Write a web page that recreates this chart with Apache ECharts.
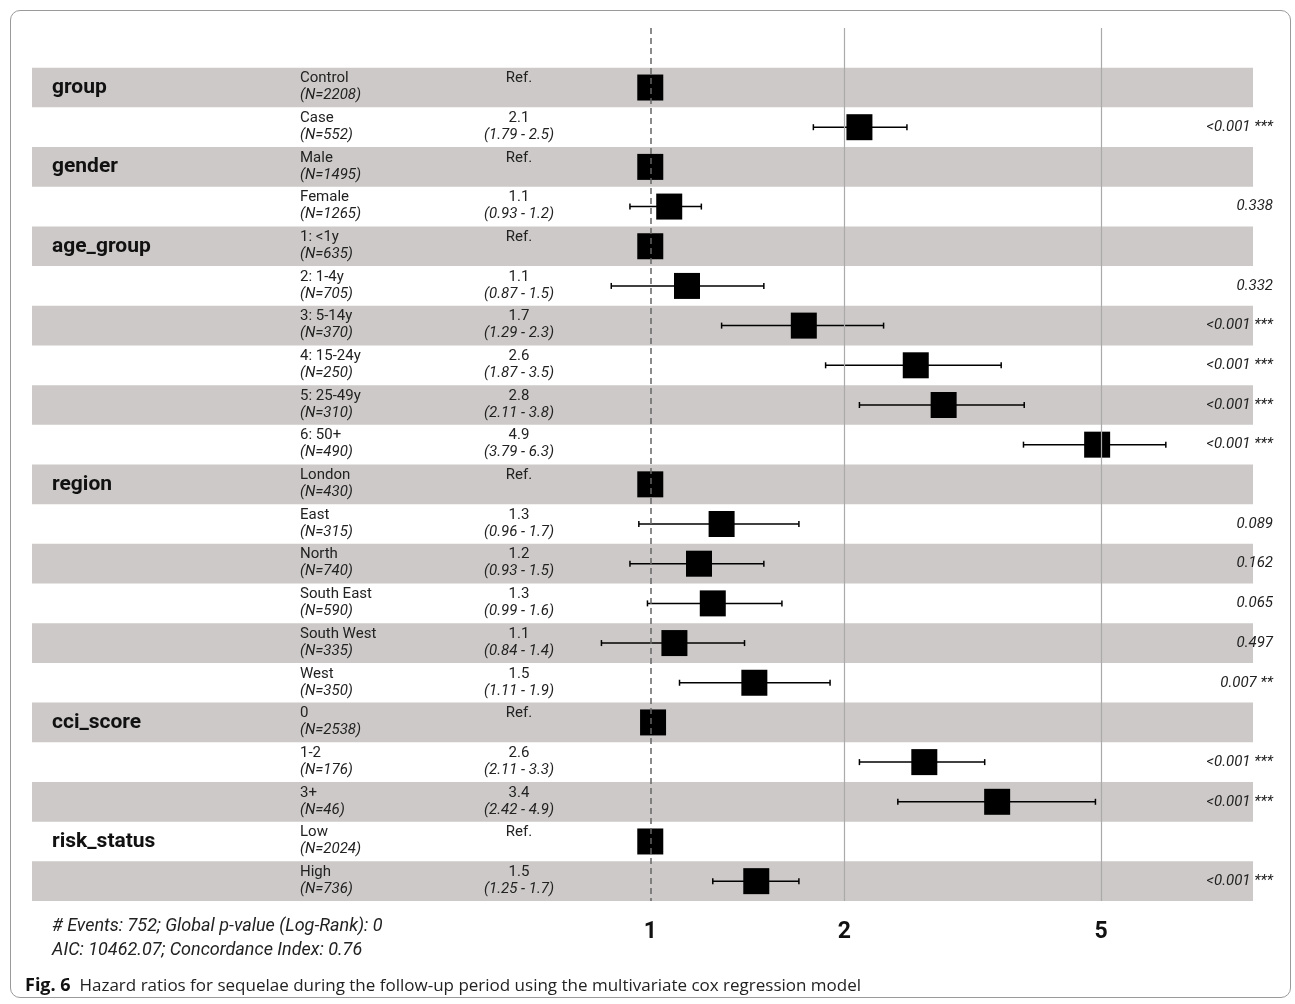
<!DOCTYPE html>
<html>
<head>
<meta charset="utf-8">
<script src="https://cdn.jsdelivr.net/npm/echarts@6/dist/echarts.min.js"></script>
<style>
  html, body { margin: 0; padding: 0; background: #fff; }
  #frame { position: absolute; left: 10px; top: 10px; width: 1281px; height: 988px;
           border: 1px solid #9a9a9a; border-radius: 10px; box-sizing: border-box; }
  #echarts { position: absolute; left: 0; top: 0; width: 1295px; height: 1004px; }
</style>
</head>
<body>
<div id="frame"></div>
<div id="echarts"></div>
<script>
// forest plot, hazard ratios per level
var vars   = ['group', '', 'gender', '', 'age_group', '', '', '', '', '', 'region', '', '', '', '', '', 'cci_score', '', '', 'risk_status', ''];
var levels = ['Control', 'Case', 'Male', 'Female', '1: <1y', '2: 1-4y', '3: 5-14y', '4: 15-24y', '5: 25-49y', '6: 50+',
              'London', 'East', 'North', 'South East', 'South West', 'West', '0', '1-2', '3+', 'Low', 'High'];
var ns     = [2208, 552, 1495, 1265, 635, 705, 370, 250, 310, 490, 430, 315, 740, 590, 335, 350, 2538, 176, 46, 2024, 736];
// estimates as plotted (unrounded) and as printed
var est    = [1, 2.11, 1, 1.07, 1, 1.14, 1.73, 2.58, 2.85, 4.93, 1, 1.29, 1.19, 1.25, 1.09, 1.45, 1.01, 2.66, 3.45, 1, 1.46];
var estTxt = ['Ref.', '2.1', 'Ref.', '1.1', 'Ref.', '1.1', '1.7', '2.6', '2.8', '4.9', 'Ref.', '1.3', '1.2', '1.3', '1.1', '1.5', 'Ref.', '2.6', '3.4', 'Ref.', '1.5'];
var lo     = [null, 1.79, null, 0.93, null, 0.87, 1.29, 1.87, 2.11, 3.79, null, 0.96, 0.93, 0.99, 0.84, 1.11, null, 2.11, 2.42, null, 1.25];
var hi     = [null, 2.5, null, 1.2, null, 1.5, 2.3, 3.5, 3.8, 6.3, null, 1.7, 1.5, 1.6, 1.4, 1.9, null, 3.3, 4.9, null, 1.7];
var pvals  = ['', '<0.001 ***', '', '0.338', '', '0.332', '<0.001 ***', '<0.001 ***', '<0.001 ***', '<0.001 ***',
              '', '0.089', '0.162', '0.065', '0.497', '0.007 **', '', '<0.001 ***', '<0.001 ***', '', '<0.001 ***'];
var xTicks = [1, 2, 5];

var chart = echarts.init(document.getElementById('echarts'));
var FONT = 'Roboto, "Noto Sans", sans-serif';

var cats = [''];
var rows = [];
for (let i = 0; i < levels.length; i++) {
    cats.push(String(i));
    rows.push([i + 1, est[i], lo[i], hi[i], i]);
}

function renderRow(params, api) {
    var i = api.value(4);
    var cs = params.coordSys;
    var c = api.coord([api.value(1), api.value(0)]);
    var h = api.size([0, 1])[1];
    var y = c[1];
    var kids = [];
    if (i % 2 === 0) {
        kids.push({ type: 'rect', shape: { x: cs.x, y: y - h / 2, width: cs.width, height: h },
                    style: { fill: '#cdc9c8' }, z2: 0 });
    }
    if (vars[i]) {
        kids.push({ type: 'text', z2: 5, style: { x: cs.x + 20, y: y, text: vars[i], fill: '#111',
            font: 'bold 21px ' + FONT, textAlign: 'left', textVerticalAlign: 'middle' } });
    }
    kids.push({ type: 'text', z2: 5, style: { x: cs.x + 268, y: y - 9, text: levels[i], fill: '#222',
        font: '15px ' + FONT, textAlign: 'left', textVerticalAlign: 'middle' } });
    kids.push({ type: 'text', z2: 5, style: { x: cs.x + 268, y: y + 8, text: '(N=' + ns[i] + ')', fill: '#222',
        font: 'italic 15px ' + FONT, textAlign: 'left', textVerticalAlign: 'middle' } });
    kids.push({ type: 'text', z2: 5, style: { x: cs.x + 487, y: y - 9, text: estTxt[i], fill: '#222',
        font: '15px ' + FONT, textAlign: 'center', textVerticalAlign: 'middle' } });
    if (lo[i] !== null) {
        kids.push({ type: 'text', z2: 5, style: { x: cs.x + 487, y: y + 8, text: '(' + lo[i] + ' - ' + hi[i] + ')', fill: '#222',
            font: 'italic 15px ' + FONT, textAlign: 'center', textVerticalAlign: 'middle' } });
        var a = api.coord([lo[i], api.value(0)]);
        var b = api.coord([hi[i], api.value(0)]);
        kids.push({ type: 'line', z2: 6, shape: { x1: a[0], y1: y, x2: b[0], y2: y }, style: { stroke: '#000', lineWidth: 1.5 } });
        kids.push({ type: 'line', z2: 6, shape: { x1: a[0], y1: y - 3, x2: a[0], y2: y + 3 }, style: { stroke: '#000', lineWidth: 1.5 } });
        kids.push({ type: 'line', z2: 6, shape: { x1: b[0], y1: y - 3, x2: b[0], y2: y + 3 }, style: { stroke: '#000', lineWidth: 1.5 } });
    }
    kids.push({ type: 'rect', z2: 7, shape: { x: c[0] - 13, y: y - 13, width: 26, height: 26 }, style: { fill: '#000' } });
    if (pvals[i]) {
        kids.push({ type: 'text', z2: 5, style: { x: cs.x + cs.width + 20, y: y, text: pvals[i], fill: '#222',
            font: 'italic 15px ' + FONT, textAlign: 'right', textVerticalAlign: 'middle' } });
    }
    return { type: 'group', children: kids };
}

var option = {
    animation: false,
    textStyle: { fontFamily: FONT },
    grid: { left: 32, right: 42, top: 28, bottom: 103 },
    xAxis: {
        type: 'log', min: 0.11, max: 8.6, logBase: 10,
        axisLine: { show: false }, axisTick: { show: false }, splitLine: { show: false },
        axisLabel: { customValues: xTicks, color: '#111', fontSize: 23, fontWeight: 'bold', margin: 20 }
    },
    yAxis: {
        type: 'category', data: cats, inverse: true,
        axisLine: { show: false }, axisTick: { show: false }, axisLabel: { show: false }, splitLine: { show: false }
    },
    series: [
        {
            type: 'custom', renderItem: renderRow, data: rows, z: 2,
            encode: { x: 1, y: 0 }
        },
        {
            type: 'line', data: [], z: 3,
            markLine: {
                symbol: 'none', silent: true, label: { show: false },
                data: [
                    { xAxis: 1, lineStyle: { color: '#666', type: [6, 4], width: 1.5 } },
                    { xAxis: 2, lineStyle: { color: '#aaa', type: 'solid', width: 1.2 } },
                    { xAxis: 5, lineStyle: { color: '#aaa', type: 'solid', width: 1.2 } }
                ]
            }
        }
    ],
    graphic: [
        { type: 'text', left: 52, top: 917, style: { text: '# Events: 752; Global p-value (Log-Rank): 0', font: 'italic 18px ' + FONT, fill: '#222' } },
        { type: 'text', left: 52, top: 941, style: { text: 'AIC: 10462.07; Concordance Index: 0.76', font: 'italic 18px ' + FONT, fill: '#222' } },
        { type: 'text', left: 25, top: 977, style: {
            text: '{b|Fig. 6}  Hazard ratios for sequelae during the follow-up period using the multivariate cox regression model',
            font: '17px "Open Sans", ' + FONT, fill: '#222',
            rich: { b: { fontWeight: 'bold', fill: '#111', fontSize: 18, fontFamily: '"Open Sans"' } } } }
    ]
};
chart.setOption(option);
</script>
</body>
</html>
